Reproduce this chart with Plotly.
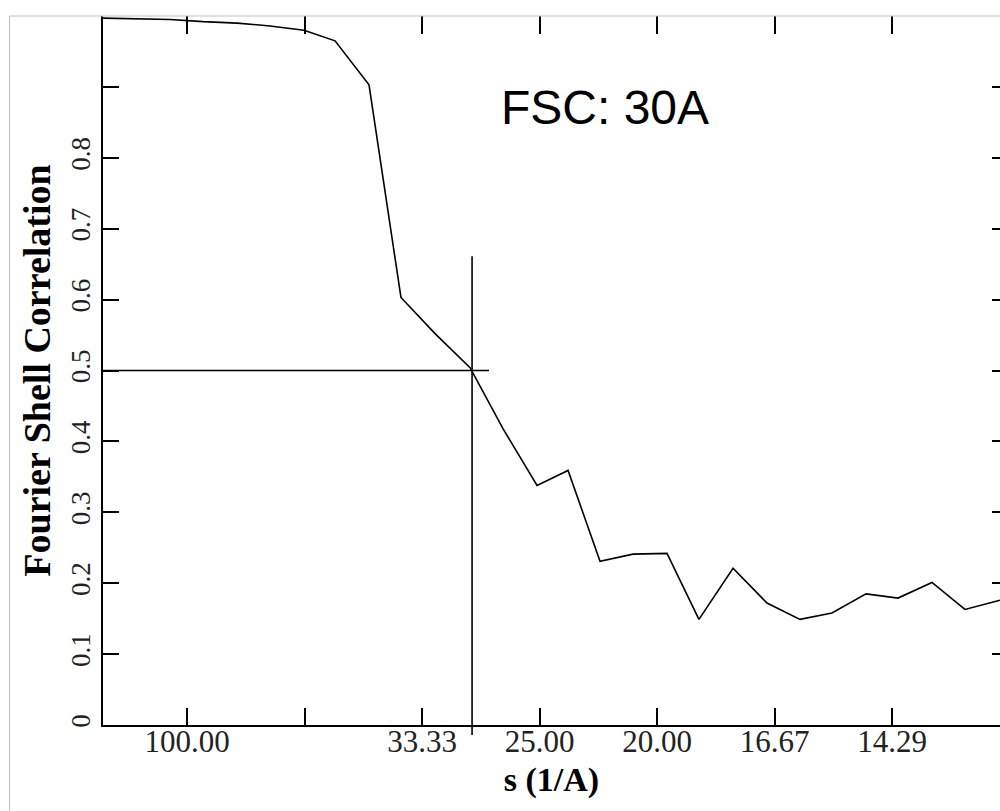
import plotly.graph_objects as go

# Spatial frequency samples s (1/A) and the Fourier Shell Correlation at each
spatial_freq = [0.00285, 0.00566, 0.00855, 0.01136, 0.01426, 0.01706, 0.01996,
                0.02260, 0.02549, 0.02821, 0.03111, 0.03409, 0.03689, 0.03979,
                0.04243, 0.04515, 0.04796, 0.05085, 0.05357, 0.05647, 0.05936,
                0.06217, 0.06489, 0.06779, 0.07051, 0.07340, 0.07621, 0.07919]
fsc = [0.997, 0.996, 0.995, 0.992, 0.990, 0.986, 0.980,
       0.965, 0.903, 0.603, 0.552, 0.504, 0.418, 0.338,
       0.359, 0.231, 0.241, 0.242, 0.149, 0.221, 0.172,
       0.149, 0.158, 0.185, 0.179, 0.201, 0.163, 0.176]

# Axis ticks: x ticks are placed in s and labelled with the resolution 1/s (A)
x_tickvals = [0.01, 0.02, 0.03, 0.04, 0.05, 0.06, 0.07]
x_ticktext = ["100.00", "", "33.33", "25.00", "20.00", "16.67", "14.29"]
y_tickvals = [0.0, 0.1, 0.2, 0.3, 0.4, 0.5, 0.6, 0.7, 0.8, 0.9]
y_ticktext = ["0", "0.1", "0.2", "0.3", "0.4", "0.5", "0.6", "0.7", "0.8", ""]

x_range = [0.002851, 0.079191]
y_range = [0.0, 1.0]

# Resolution cut-off crosshair (FSC = 0.5)
threshold_fsc = 0.5
cutoff_s = 0.03426
hline_s_end = 0.03570
vline_fsc_top = 0.661
vline_fsc_bottom = -0.014

serif = "Liberation Serif, Times New Roman, serif"
sans = "Liberation Sans, Arial, sans-serif"

fig = go.Figure()

fig.add_trace(go.Scatter(
    x=spatial_freq, y=fsc, mode="lines",
    line=dict(color="black", width=1.6),
    hoverinfo="x+y", showlegend=False,
))
# invisible copy that carries the mirrored (top / right) tick axes
fig.add_trace(go.Scatter(
    x=spatial_freq, y=fsc, mode="lines",
    line=dict(color="rgba(0,0,0,0)", width=0),
    hoverinfo="skip", showlegend=False, xaxis="x2", yaxis="y2",
))

# crosshair marking where the curve crosses the 0.5 threshold
fig.add_shape(type="line", xref="x", yref="y",
              x0=x_range[0], x1=hline_s_end, y0=threshold_fsc, y1=threshold_fsc,
              line=dict(color="black", width=1.6), layer="above")
fig.add_shape(type="line", xref="x", yref="paper",
              x0=cutoff_s, x1=cutoff_s, y0=vline_fsc_bottom, y1=vline_fsc_top,
              line=dict(color="black", width=1.6), layer="above")

# thin grey frame around the graphic
fig.add_shape(type="line", xref="paper", yref="paper",
              x0=-0.1042, x1=1.01, y0=1.0, y1=1.0,
              line=dict(color="#c4c4c4", width=1.2), layer="above")
fig.add_shape(type="line", xref="paper", yref="paper",
              x0=-0.1042, x1=-0.1042, y0=1.0, y1=-0.2,
              line=dict(color="#c4c4c4", width=1.2), layer="above")

fig.add_annotation(
    text="FSC: 30A", xref="paper", yref="paper",
    x=0.4415, y=0.8715, xanchor="left", yanchor="middle",
    showarrow=False, font=dict(family=sans, size=48, color="black"),
)

common_ticks = dict(ticks="inside", tickcolor="black", tickwidth=1.6,
                    showgrid=False, zeroline=False)

fig.update_layout(
    width=1000, height=811,
    margin=dict(l=103, r=0, t=16, b=86),
    paper_bgcolor="white", plot_bgcolor="white",
    xaxis=dict(
        range=x_range, tickmode="array", tickvals=x_tickvals, ticktext=x_ticktext,
        ticklen=17, showline=True, linecolor="black", linewidth=1.8,
        ticklabelstandoff=-12,
        tickfont=dict(family=serif, size=31, color="#222222"),
        title=dict(text="s (1/A)", standoff=9,
                   font=dict(family=serif, size=34, color="black", weight=700)),
        **common_ticks,
    ),
    yaxis=dict(
        range=y_range, tickmode="array", tickvals=y_tickvals, ticktext=y_ticktext,
        ticklen=16, showline=True, linecolor="black", linewidth=1.8,
        tickangle=-90,
        tickfont=dict(family=serif, size=27, color="#222222"),
        title=dict(text="Fourier Shell Correlation", standoff=4,
                   font=dict(family=serif, size=38, color="black", weight=700)),
        **common_ticks,
    ),
    xaxis2=dict(
        range=x_range, overlaying="x", side="top", anchor="y2",
        tickmode="array", tickvals=x_tickvals, ticklen=18,
        showticklabels=False, showline=False, **common_ticks,
    ),
    yaxis2=dict(
        range=y_range, overlaying="y", side="right", anchor="x2",
        tickmode="array", tickvals=y_tickvals, ticklen=8,
        showticklabels=False, showline=False, **common_ticks,
    ),
)

fig.write_html("out.html")
